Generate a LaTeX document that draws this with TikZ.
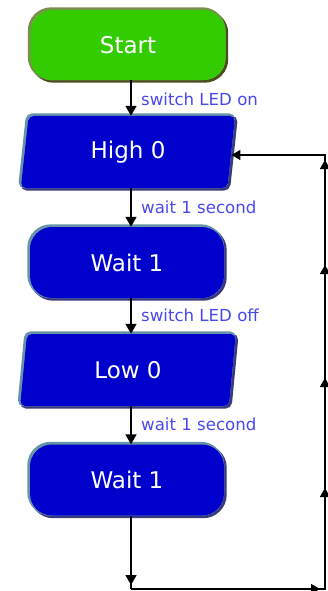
\documentclass[tikz,border=0pt]{standalone}
\usepackage{fontspec}
\setmainfont{DejaVu Sans}
\usetikzlibrary{arrows.meta,decorations.markings,shapes.geometric}

\definecolor{startfill}{HTML}{33CC00}
\definecolor{startlight}{HTML}{7A8E4E}
\definecolor{startdark}{HTML}{46501C}
\definecolor{boxfill}{HTML}{0000CC}
\definecolor{boxlight}{HTML}{6494A8}
\definecolor{boxdark}{HTML}{3A3A7C}
\definecolor{labelblue}{HTML}{4848F0}

\begin{document}
\begin{tikzpicture}[x=1pt,y=-1pt,
  % bevelled border: dark edge bottom-right, light edge top-left
  bevel/.style n args={3}{
    preaction={draw=#3, line width=3pt,
      transform canvas={xshift=1.2pt,yshift=-1.2pt}},
    preaction={draw=#2, line width=3pt,
      transform canvas={xshift=-1.2pt,yshift=1.2pt}},
    fill=#1, draw=none},
  flowtext/.style={text=white, font=\fontsize{23}{26}\selectfont, inner sep=0pt},
  terminal/.style={flowtext, rectangle, rounded corners=22pt,
    minimum width=195pt, minimum height=70pt, bevel={startfill}{startlight}{startdark}},
  waitbox/.style={flowtext, rectangle, rounded corners=22pt,
    minimum width=194pt, minimum height=71pt, bevel={boxfill}{boxlight}{boxdark}},
  iobox/.style={flowtext, trapezium, trapezium stretches=true,
    trapezium left angle=82.5, trapezium right angle=97.5, rounded corners=5pt,
    minimum width=216pt, minimum height=72pt, bevel={boxfill}{boxlight}{boxdark}},
  steplabel/.style={anchor=base west, inner sep=0pt, text=labelblue,
    font=\fontsize{16.6}{19}\selectfont},
  tipbig/.tip={Triangle[length=10pt,width=11pt]},
  tipsmall/.tip={Triangle[length=9pt,width=10pt]},
  conn/.style={line width=1.6pt, -tipbig},
  lastconn/.style={line width=1.6pt,
    decoration={markings, mark=at position -4pt with {\arrow{tipbig}}},
    postaction=decorate},
  loopline/.style={line width=1.6pt, -tipsmall,
    decoration={markings,
      mark=at position 189pt with {\arrow{tipsmall}},
      mark=at position 295pt with {\arrow{tipsmall}},
      mark=at position 405pt with {\arrow{tipsmall}},
      mark=at position 518pt with {\arrow{tipsmall}},
      mark=at position 623pt with {\arrow{tipsmall}}},
    postaction=decorate}
]
\useasboundingbox (0,0) rectangle (328,591);

% flowchart blocks
\node[terminal] (start) at (128,45)    {Start};
\node[iobox]    (high)  at (128,152)   {High 0};
\node[waitbox]  (wait1) at (127,262.5) {Wait 1};
\node[iobox]    (low)   at (128,370)   {Low 0};
\node[waitbox]  (wait2) at (127,480)   {Wait 1};

% helper points for the connector column and the loop back
\coordinate (xl) at (131,0);
\coordinate (cb) at (131,589);
\coordinate (cr) at (325,589);
\coordinate (ct) at (325,155);

% main flow
\draw[conn] (start.south -| xl) -- (high.north -| xl);
\draw[conn] (high.south -| xl)  -- (wait1.north -| xl);
\draw[conn] (wait1.south -| xl) -- (low.north -| xl);
\draw[conn] (low.south -| xl)   -- (wait2.north -| xl);
\draw[lastconn] (wait2.south -| xl) -- (cb);

% loop back to the first output block
\draw[loopline] (cb) -- (cr) -- (ct) -- (ct -| high.east);

% step descriptions
\node[steplabel] (l1) at (141,106) {switch LED on};
\node[steplabel] (l2) at (141,213) {wait 1 second};
\node[steplabel] (l3) at (141,321) {switch LED off};
\node[steplabel] (l4) at (141,430) {wait 1 second};
\end{tikzpicture}
\end{document}
